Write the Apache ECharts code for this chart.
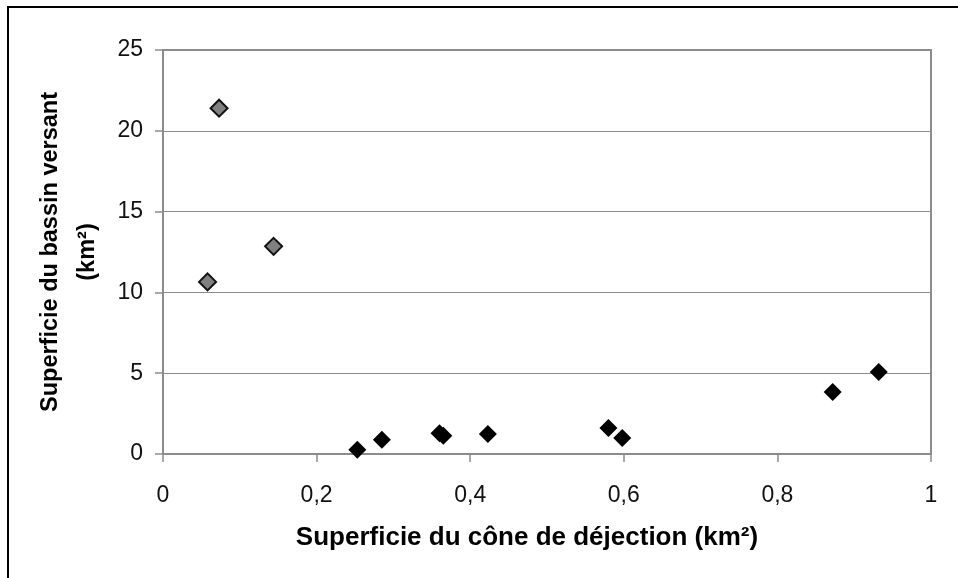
<!DOCTYPE html>
<html>
<head>
<meta charset="utf-8">
<script src="https://cdn.jsdelivr.net/npm/echarts@6/dist/echarts.min.js"></script>
<style>html,body{margin:0;padding:0;background:#fff}#c{width:958px;height:578px}</style>
</head>
<body>
<div id="c"></div>
<script>
const xTitle = 'Superficie du cône de déjection (km²)';
const yTitleLines = ['Superficie du bassin versant', '(km²)'];
const xTicks = [0, 0.2, 0.4, 0.6, 0.8, 1];
const yTicks = [0, 5, 10, 15, 20, 25];
// gray diamonds
const grayX = [0.073, 0.144, 0.058];
const grayY = [21.4, 12.85, 10.65];
// black diamonds
const blackX = [0.253, 0.285, 0.360, 0.365, 0.423, 0.580, 0.598, 0.872, 0.932];
const blackY = [0.27, 0.88, 1.29, 1.13, 1.24, 1.61, 0.99, 3.83, 5.07];

const grayData = grayX.map((x, i) => [x, grayY[i]]);
const blackData = blackX.map((x, i) => [x, blackY[i]]);
const fmt = v => String(v).replace('.', ',');

const chart = echarts.init(document.getElementById('c'), null, {renderer: 'canvas'});
chart.setOption({
  animation: false,
  backgroundColor: '#fff',
  grid: {left: 163, top: 50, right: 27, bottom: 124, show: true, borderColor: '#8c8c8c', borderWidth: 2, backgroundColor: '#fff'},
  xAxis: {
    type: 'value', min: xTicks[0], max: xTicks[xTicks.length - 1], interval: 0.2,
    axisLine: {show: true, onZero: false, lineStyle: {color: '#8c8c8c', width: 2}},
    axisTick: {show: true, inside: false, length: 8, lineStyle: {color: '#8c8c8c', width: 1.5}},
    axisLabel: {fontFamily: 'Liberation Sans', fontSize: 23, color: '#111', margin: 30, formatter: fmt},
    splitLine: {show: false}
  },
  yAxis: {
    type: 'value', min: yTicks[0], max: yTicks[yTicks.length - 1], interval: 5,
    axisLine: {show: true, onZero: false, lineStyle: {color: '#8c8c8c', width: 2}},
    axisTick: {show: true, inside: false, length: 8, lineStyle: {color: '#8c8c8c', width: 1.5}},
    axisLabel: {fontFamily: 'Liberation Sans', fontSize: 23, color: '#111', margin: 20},
    splitLine: {show: true, lineStyle: {color: '#8c8c8c', width: 1}}
  },
  series: [
    {type: 'scatter', data: blackData, symbol: 'diamond', symbolSize: 18,
     itemStyle: {color: '#000', opacity: 1}},
    {type: 'scatter', data: grayData, symbol: 'diamond', symbolSize: 17,
     itemStyle: {color: '#808080', borderColor: '#111', borderWidth: 2, opacity: 1}}
  ],
  graphic: [
    {type: 'rect', shape: {x: 8, y: 7, width: 1000, height: 1000}, style: {fill: 'none', stroke: '#000', lineWidth: 2}, silent: true},
    {type: 'text', x: 527, y: 538, style: {text: xTitle, font: 'bold 26px "Liberation Sans"', fill: '#000', textAlign: 'center', textVerticalAlign: 'middle'}},
    {type: 'text', x: 51, y: 252, rotation: Math.PI / 2, style: {text: yTitleLines[0], font: 'bold 23.5px "Liberation Sans"', fill: '#000', textAlign: 'center', textVerticalAlign: 'middle'}},
    {type: 'text', x: 88, y: 252, rotation: Math.PI / 2, style: {text: yTitleLines[1], font: 'bold 23.5px "Liberation Sans"', fill: '#000', textAlign: 'center', textVerticalAlign: 'middle'}}
  ]
});
</script>
</body>
</html>
